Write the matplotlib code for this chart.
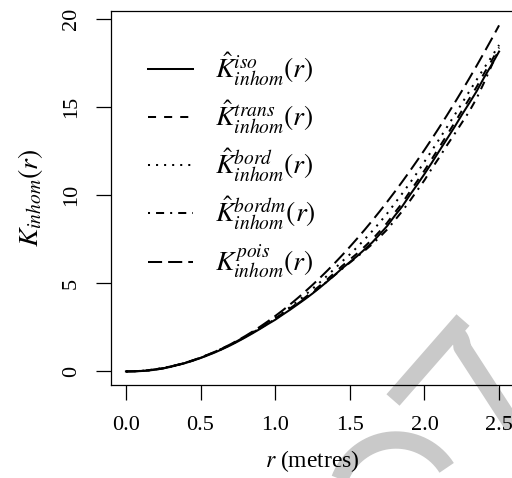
import matplotlib
matplotlib.use("Agg")
import matplotlib.pyplot as plt
from matplotlib.lines import Line2D
import numpy as np

plt.rcParams["font.family"] = "serif"
plt.rcParams["font.serif"] = ["Liberation Serif", "DejaVu Serif"]
plt.rcParams["mathtext.fontset"] = "stix"

# distance r (metres)
r = [0.00, 0.05, 0.10, 0.15, 0.20, 0.25, 0.30, 0.35, 0.40, 0.45,
     0.50, 0.55, 0.60, 0.65, 0.70, 0.75, 0.80, 0.85, 0.90, 0.95,
     1.00, 1.05, 1.10, 1.15, 1.20, 1.25, 1.30, 1.35, 1.40, 1.45,
     1.50, 1.55, 1.60, 1.65, 1.70, 1.75, 1.80, 1.85, 1.90, 1.95,
     2.00, 2.05, 2.10, 2.15, 2.20, 2.25, 2.30, 2.35, 2.40, 2.45, 2.50]

k_iso = [0.000, 0.005, 0.020, 0.050, 0.100, 0.170, 0.260, 0.370, 0.480, 0.610,
         0.760, 0.920, 1.090, 1.280, 1.480, 1.700, 1.930, 2.170, 2.420, 2.680,
         2.930, 3.220, 3.500, 3.800, 4.100, 4.420, 4.760, 5.110, 5.480, 5.860,
         6.200, 6.550, 6.930, 7.320, 7.780, 8.250, 8.820, 9.350, 9.980, 10.58,
         11.20, 11.85, 12.52, 13.18, 13.85, 14.55, 15.22, 15.90, 16.68, 17.40, 18.15]

k_trans = [0.000, 0.006, 0.022, 0.055, 0.108, 0.180, 0.272, 0.385, 0.498, 0.632,
           0.785, 0.950, 1.120, 1.315, 1.520, 1.745, 1.980, 2.225, 2.480, 2.745,
           3.000, 3.295, 3.580, 3.885, 4.195, 4.525, 4.870, 5.230, 5.610, 5.995,
           6.345, 6.700, 7.090, 7.490, 7.950, 8.430, 9.000, 9.540, 10.17, 10.78,
           11.40, 12.06, 12.73, 13.40, 14.08, 14.78, 15.46, 16.15, 16.92, 17.63, 18.38]

k_bord = [0.000, 0.008, 0.031, 0.070, 0.124, 0.193, 0.278, 0.378, 0.494, 0.624,
          0.770, 0.930, 1.105, 1.295, 1.500, 1.720, 1.955, 2.200, 2.465, 2.740,
          3.030, 3.335, 3.655, 3.985, 4.330, 4.690, 5.060, 5.445, 5.845, 6.255,
          6.640, 7.060, 7.500, 7.960, 8.450, 8.960, 9.520, 10.08, 10.66, 11.26,
          11.90, 12.54, 13.19, 13.85, 14.52, 15.20, 15.88, 16.55, 17.22, 17.85, 18.52]

k_bordm = [0.000, 0.007, 0.028, 0.064, 0.115, 0.182, 0.266, 0.368, 0.486, 0.620,
           0.772, 0.938, 1.112, 1.305, 1.510, 1.730, 1.960, 2.200, 2.450, 2.710,
           2.975, 3.260, 3.545, 3.840, 4.135, 4.450, 4.780, 5.120, 5.470, 5.830,
           6.170, 6.510, 6.860, 7.220, 7.620, 8.050, 8.560, 9.080, 9.650, 10.25,
           10.85, 11.52, 12.15, 12.82, 13.45, 14.10, 14.75, 15.50, 16.40, 17.35, 18.30]

k_pois = [0.000, 0.008, 0.031, 0.071, 0.126, 0.196, 0.283, 0.385, 0.503, 0.636,
          0.785, 0.950, 1.131, 1.327, 1.539, 1.767, 2.011, 2.270, 2.545, 2.835,
          3.142, 3.464, 3.801, 4.155, 4.524, 4.909, 5.309, 5.726, 6.158, 6.605,
          7.069, 7.548, 8.042, 8.553, 9.079, 9.621, 10.179, 10.752, 11.341, 11.946,
          12.566, 13.203, 13.854, 14.522, 15.205, 15.904, 16.619, 17.349, 18.096, 18.857, 19.635]

labels = [r"$\hat{K}^{iso}_{inhom}(r)$",
          r"$\hat{K}^{trans}_{inhom}(r)$",
          r"$\hat{K}^{bord}_{inhom}(r)$",
          r"$\hat{K}^{bordm}_{inhom}(r)$",
          r"$K^{pois}_{inhom}(r)$"]

x_ticks = [0.0, 0.5, 1.0, 1.5, 2.0, 2.5]
x_ticklabels = ["0.0", "0.5", "1.0", "1.5", "2.0", "2.5"]
y_ticks = [0, 5, 10, 15, 20]
y_ticklabels = ["0", "5", "10", "15", "20"]

W, H = 512, 478
fig = plt.figure(figsize=(W / 100, H / 100), dpi=100)
fig.patch.set_facecolor("white")


def fx(px):
    return np.asarray(px) / W


def fy(py):
    return 1 - np.asarray(py) / H


# light grey watermark strokes behind the plot
grey = "#c9c9c9"
band = 12.5
fig.add_artist(Line2D(fx([393, 463]), fy([400, 320]), lw=band, color=grey,
                      solid_capstyle="butt", transform=fig.transFigure, zorder=-5))
# right arm with a rounded inner corner where it leaves the left arm
t = np.linspace(0, 1, 30)
cx = 452 + 10 * np.sin(t * np.pi / 2)
cy = 333 + 14 * (1 - np.cos(t * np.pi / 2))
arm_x = np.concatenate([cx, [530]])
arm_y = np.concatenate([cy, [452]])
fig.add_artist(Line2D(fx(arm_x), fy(arm_y), lw=band, color=grey,
                      solid_capstyle="butt", solid_joinstyle="round",
                      transform=fig.transFigure, zorder=-5))
theta = np.linspace(np.pi * 0.97, np.pi * 0.18, 40)
arc_x = 396 + 60 * np.cos(theta)
arc_y = 500 - 60 * np.sin(theta)
fig.add_artist(Line2D(fx(arc_x), fy(arc_y), lw=band, color=grey,
                      solid_capstyle="butt", transform=fig.transFigure, zorder=-5))

ax = fig.add_axes([fx(111), fy(385), fx(514) - fx(111), fy(11) - fy(385)])
ax.patch.set_alpha(0)

styles = [
    dict(ls="-"),
    dict(ls=(0, (4, 4))),
    dict(ls=(0, (1, 3))),
    dict(ls=(0, (1, 3, 4, 3))),
    dict(ls=(0, (7, 3))),
]
series = [k_iso, k_trans, k_bord, k_bordm, k_pois]
handles = []
for vals, st, lab in zip(series, styles, labels):
    h, = ax.plot(r, vals, color="black", lw=1.45, label=lab, **st)
    handles.append(h)

ax.set_xlim(-0.1, 2.6)
ax.set_ylim(-0.77, 20.45)
ax.set_xticks(x_ticks)
ax.set_xticklabels(x_ticklabels)
ax.set_yticks(y_ticks)
ax.set_yticklabels(y_ticklabels, rotation=90, va="center")
ax.tick_params(direction="out", length=10.5, width=0.9, labelsize=16, pad=12)
ax.tick_params(axis="y", pad=11)
for sp in ax.spines.values():
    sp.set_linewidth(0.9)

ax.set_xlabel(r"$r$ (metres)", fontsize=17, labelpad=9)
ax.set_ylabel(r"$K_{inhom}(r)$", fontsize=20, labelpad=12)

leg = ax.legend(handles=handles, loc="upper left", frameon=False, fontsize=20,
                handlelength=1.62, handletextpad=0.8, labelspacing=0.39,
                borderpad=0, borderaxespad=0,
                bbox_to_anchor=(0.092, 0.893))

fig.savefig("out.png", dpi=100)
